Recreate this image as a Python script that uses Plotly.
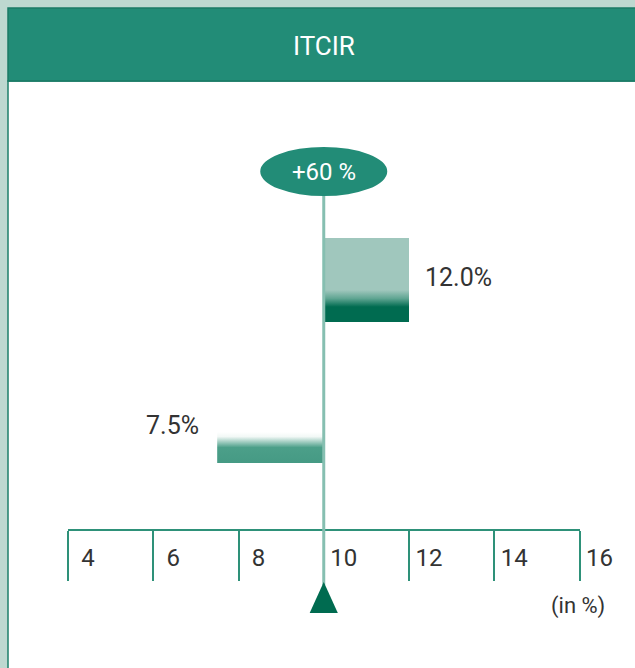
import plotly.graph_objects as go

# chart data
title = "ITCIR"
baseline = 10.0
values = [12.0, 7.5]
value_labels = ["12.0%", "7.5%"]
change_label = "+60 %"
tick_values = [4, 6, 8, 10, 12, 14, 16]
unit_label = "(in %)"

# layout constants (pixel rows on a pixel-based y axis)
W, H = 635, 668
bar_rows = [(238, 322), (432, 463)]
label_rows = [277, 425]
axis_row = 530
font_family = "Roboto, Liberation Sans, sans-serif"

GREEN = "#228c77"
DARK = "#006b50"
LINE = "#2e9179"
PALE_LINE = "#86bfb1"
TEXT = "#333333"

gradients = [
    [[0, "#a0c7bd"], [0.62, "#a0c7bd"], [0.72, "#5fa592"], [0.82, DARK], [1, DARK]],
    [[0, "#ffffff"], [0.15, "#f2f8f6"], [0.5, "#4c9f89"], [1, "#459a84"]],
]

fig = go.Figure()

for val, (top, bottom), grad in zip(values, bar_rows, gradients):
    fig.add_trace(go.Scatter(
        x=[baseline, val, val, baseline, baseline],
        y=[top, top, bottom, bottom, top],
        mode="lines",
        line=dict(width=0),
        fill="toself",
        fillgradient=dict(type="vertical", colorscale=grad, start=top, stop=bottom),
        hoverinfo="skip",
        showlegend=False,
    ))

# value labels
for val, lab, row in zip(values, value_labels, label_rows):
    right = val >= baseline
    fig.add_annotation(
        x=val, y=row, xref="x", yref="y", text=lab, showarrow=False,
        xanchor="left" if right else "right", yanchor="middle",
        xshift=14 if right else -16,
        font=dict(family=font_family, size=25, color=TEXT),
    )

shapes = [
    # white panel
    dict(type="rect", xref="paper", yref="y", x0=8 / W, x1=1.01, y0=81, y1=H + 5,
         fillcolor="white", line=dict(color="#1d7f6a", width=1.5), layer="below"),
    # header band
    dict(type="rect", xref="paper", yref="y", x0=8 / W, x1=1.01, y0=8, y1=81,
         fillcolor=GREEN, line=dict(color="#1a7a66", width=1.5), layer="below"),
    # centre line
    dict(type="line", xref="x", yref="y", x0=baseline, x1=baseline, y0=190, y1=585,
         line=dict(color=PALE_LINE, width=3), layer="above"),
    # ellipse with change label
    dict(type="circle", xref="x", yref="y", x0=baseline - 1.49, x1=baseline + 1.49,
         y0=147, y1=196, fillcolor=GREEN, line=dict(width=0), layer="above"),
    # pointer triangle
    dict(type="path", xref="x", yref="y",
         path=f"M {baseline - 0.33} 613 L {baseline + 0.33} 613 L {baseline} 582 Z",
         fillcolor=DARK, line=dict(width=0), layer="above"),
]

fig.add_annotation(
    x=baseline, y=172, xref="x", yref="y", text=change_label, showarrow=False,
    font=dict(family=font_family, size=24, color="white"),
)
fig.add_annotation(
    x=324 / W, y=46, xref="paper", yref="y", text=title, showarrow=False,
    font=dict(family=font_family, size=26, color="white"),
)
fig.add_annotation(
    x=607 / W, y=606, xref="paper", yref="y", text=unit_label, showarrow=False,
    xanchor="right", yanchor="middle",
    font=dict(family=font_family, size=22, color=TEXT),
)

fig.update_layout(
    width=W, height=H,
    margin=dict(l=0, r=0, t=0, b=0),
    paper_bgcolor="#bdd8d0",
    plot_bgcolor="rgba(0,0,0,0)",
    shapes=shapes,
    showlegend=False,
    xaxis=dict(
        domain=[68 / W, 579.5 / W], range=[4, 16],
        anchor="free", position=1 - axis_row / H, side="bottom",
        automargin=False,
        tickvals=tick_values, ticktext=[str(t) for t in tick_values],
        ticks="outside", ticklen=50, tickwidth=2, tickcolor=LINE,
        showline=True, linecolor=LINE, linewidth=2,
        showgrid=False, zeroline=False,
        ticklabelstandoff=-44, ticklabelshift=20,
        tickfont=dict(family=font_family, size=24, color=TEXT),
    ),
    yaxis=dict(range=[H, 0], domain=[0, 1], visible=False, fixedrange=True,
               automargin=False),
)

fig.write_html(
    "out.html",
    config={"displayModeBar": False},
    post_script="document.body.style.margin='0';document.body.style.overflow='hidden';",
)
